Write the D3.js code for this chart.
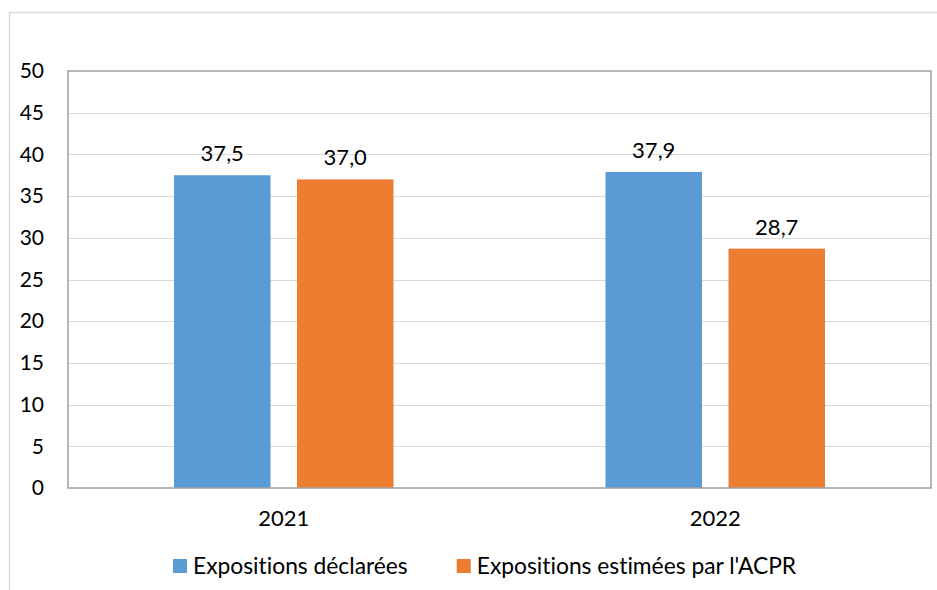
<!DOCTYPE html>
<html>
<head>
<meta charset="utf-8">
<script src="https://cdn.jsdelivr.net/npm/d3@7"></script>
<style>
  html, body { margin: 0; padding: 0; background: #fff; }
  svg { display: block; font-family: Lato, "Open Sans", sans-serif; font-variant-ligatures: none; }
</style>
</head>
<body>
<svg id="chart" width="937" height="590"></svg>
<script>
const categories = ["2021", "2022"];
const seriesNames = ["Expositions déclarées", "Expositions estimées par l'ACPR"];
const declarees = [37.5, 37.9];
const estimees = [37.0, 28.7];
const yTicks = [0, 5, 10, 15, 20, 25, 30, 35, 40, 45, 50];
const colors = ["#5B9BD5", "#ED7D31"];

const seriesValues = [declarees, estimees];
const data = categories.map((c, i) => ({
  cat: c,
  vals: seriesNames.map((s, j) => ({ s, j, v: seriesValues[j][i] }))
}));

const svg = d3.select("#chart");
const W = 937, H = 590;
const plot = { left: 68, right: 931, top: 71, bottom: 488 };
const fs = 21;

// outer chart border
svg.append("path")
  .attr("d", `M9.5,${H} V12.5 H${W}`)
  .attr("fill", "none").attr("stroke", "#d9d9d9").attr("stroke-width", 1.5);

const y = d3.scaleLinear().domain([0, 50]).range([plot.bottom, plot.top]);
const x0 = d3.scaleBand().domain(categories).range([plot.left, plot.right]).padding(0);
const groupW = x0.bandwidth() * 0.5087;
const x1 = d3.scaleBand().domain(seriesNames).range([0, groupW]).paddingInner(0.2154);

// gridlines
svg.append("g").selectAll("line").data(yTicks.filter(t => t > 0 && t < 50)).join("line")
  .attr("x1", plot.left).attr("x2", plot.right)
  .attr("y1", d => Math.round(y(d)) + 0.5).attr("y2", d => Math.round(y(d)) + 0.5)
  .attr("stroke", "#d9d9d9").attr("stroke-width", 1.2);

// y axis labels
const yAxis = d3.axisLeft(y).tickValues(yTicks).tickSize(0).tickPadding(24).tickFormat(d3.format("d"));
const gy = svg.append("g").attr("transform", `translate(${plot.left},0)`).call(yAxis);
gy.select(".domain").remove();
gy.selectAll("text").attr("font-size", fs).attr("fill", "#000").attr("font-family", "Lato, 'Open Sans', sans-serif");

// bars
const groups = svg.append("g").selectAll("g").data(data).join("g")
  .attr("transform", d => `translate(${x0(d.cat) + (x0.bandwidth() - groupW) / 2},0)`);

groups.selectAll("rect").data(d => d.vals).join("rect")
  .attr("x", d => x1(d.s))
  .attr("width", x1.bandwidth())
  .attr("y", d => y(d.v))
  .attr("height", d => y(0) - y(d.v))
  .attr("fill", d => colors[d.j]);

const fmt = d3.formatLocale({ decimal: ",", thousands: " ", grouping: [3], currency: ["", "€"] }).format(".1f");
groups.selectAll("text").data(d => d.vals).join("text")
  .attr("x", d => x1(d.s) + x1.bandwidth() / 2)
  .attr("y", d => y(d.v) - 14)
  .attr("text-anchor", "middle")
  .attr("font-size", 22)
  .attr("fill", "#000")
  .text(d => fmt(d.v));

// plot border
svg.append("rect")
  .attr("x", plot.left).attr("y", plot.top)
  .attr("width", plot.right - plot.left).attr("height", plot.bottom - plot.top)
  .attr("fill", "none").attr("stroke", "#a0a0a0").attr("stroke-width", 1.5);

// x axis labels
const xAxis = d3.axisBottom(x0).tickSize(0).tickPadding(22);
const gx = svg.append("g").attr("transform", `translate(0,${plot.bottom})`).call(xAxis);
gx.select(".domain").remove();
gx.selectAll("text").attr("font-size", 22).attr("fill", "#000").attr("font-family", "Lato, 'Open Sans', sans-serif");

// legend
const legend = svg.append("g");
let lx = 173;
seriesNames.forEach((s, j) => {
  legend.append("rect").attr("x", lx).attr("y", 559).attr("width", 14).attr("height", 14).attr("fill", colors[j]);
  const t = legend.append("text").attr("x", lx + 20).attr("y", 574).attr("font-size", 22.8).attr("fill", "#000").text(s);
  lx = lx + 20 + t.node().getComputedTextLength() + 49;
});
</script>
</body>
</html>
